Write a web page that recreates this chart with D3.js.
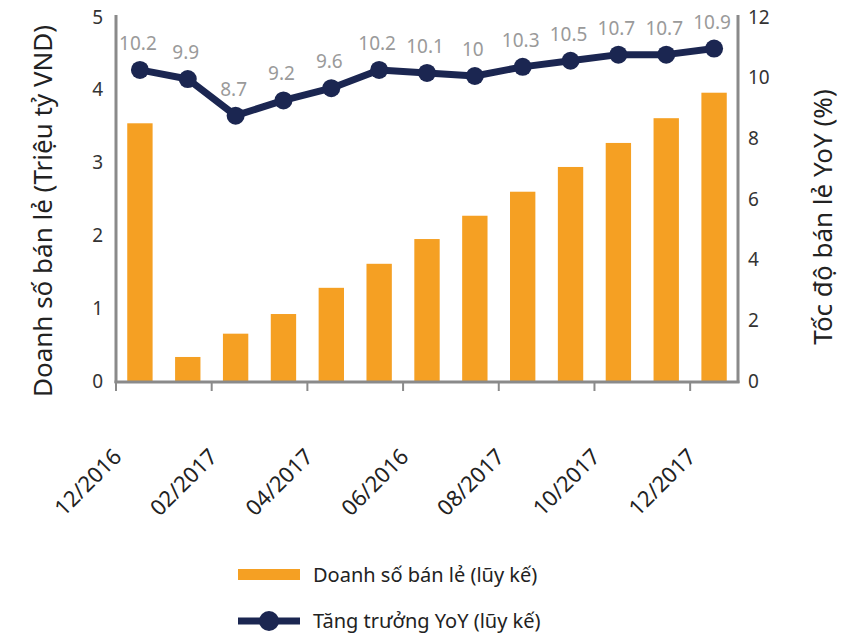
<!DOCTYPE html>
<html>
<head>
<meta charset="utf-8">
<script src="https://cdn.jsdelivr.net/npm/d3@7"></script>
<style>
  body { margin: 0; background: #fff; }
  svg text { font-family: "Noto Sans", "Open Sans", sans-serif; }
</style>
</head>
<body>
<div id="chart"></div>
<script>
// --- data ---
const months = ["12/2016", "01/2017", "02/2017", "03/2017", "04/2017", "05/2017", "06/2016",
    "07/2017", "08/2017", "09/2017", "10/2017", "11/2017", "12/2017"];
const sales = [3.54, 0.33, 0.65, 0.92, 1.28, 1.61, 1.95, 2.27, 2.60, 2.94, 3.27, 3.61, 3.96];
const yoy = [10.2, 9.9, 8.7, 9.2, 9.6, 10.2, 10.1, 10, 10.3, 10.5, 10.7, 10.7, 10.9];
const leftTicks = [0, 1, 2, 3, 4, 5];
const rightTicks = [0, 2, 4, 6, 8, 10, 12];
const shownLabels = ["12/2016", "02/2017", "04/2017", "06/2016", "08/2017", "10/2017", "12/2017"];

const W = 855, H = 641;
const plotL = 116, plotR = 738, plotT = 17, plotB = 381;
const barColor = "#f5a023", lineColor = "#1b2651", axisColor = "#8a8a8a";

const svg = d3.select("#chart").append("svg")
    .attr("width", W).attr("height", H);

const x = d3.scaleBand().domain(months).range([plotL, plotR]).paddingInner(0.47).paddingOuter(0.235);
const xb = d3.scaleBand().domain(months).range([plotL, plotR]); // full bands for ticks
const yL = d3.scaleLinear().domain([0, 5]).range([plotB, plotT]);
const yR = d3.scaleLinear().domain([0, 12]).range([plotB, plotT - 2]);

// bars
svg.append("g").selectAll("rect")
    .data(sales)
    .join("rect")
    .attr("x", (d, i) => x(months[i]))
    .attr("width", x.bandwidth())
    .attr("y", d => yL(d))
    .attr("height", d => yL(0) - yL(d))
    .attr("fill", barColor);

// axes lines
const axisG = svg.append("g").attr("stroke", axisColor).attr("stroke-width", 3);
axisG.append("line").attr("x1", plotL).attr("x2", plotL).attr("y1", plotT - 2).attr("y2", plotB + 2);
axisG.append("line").attr("x1", plotR).attr("x2", plotR).attr("y1", plotT - 2).attr("y2", plotB + 2);
axisG.append("line").attr("x1", plotL - 1.5).attr("x2", plotR + 1.5).attr("y1", plotB + 1).attr("y2", plotB + 1);

// bottom ticks at band edges every two categories
const tickIdx = d3.range(0, months.length, 2);
axisG.append("g").selectAll("line")
    .data(tickIdx)
    .join("line")
    .attr("stroke-width", 2)
    .attr("x1", i => xb(months[i])).attr("x2", i => xb(months[i]))
    .attr("y1", plotB).attr("y2", plotB + 10);

// x labels
svg.append("g").selectAll("text")
    .data(shownLabels)
    .join("text")
    .attr("transform", d => {
        const cx = xb(d) + xb.bandwidth() / 2 - 17;
        return `translate(${cx},${plotB + 77}) rotate(-45)`;
    })
    .attr("text-anchor", "end")
    .attr("font-size", 22)
    .attr("fill", "#222")
    .text(d => d);

// left tick labels
svg.append("g").selectAll("text")
    .data(leftTicks)
    .join("text")
    .attr("x", plotL - 13)
    .attr("y", d => yL(d))
    .attr("dy", "0.35em")
    .attr("text-anchor", "end")
    .attr("font-size", 19)
    .attr("fill", "#333")
    .text(d => d);

// right tick labels
svg.append("g").selectAll("text")
    .data(rightTicks)
    .join("text")
    .attr("x", plotR + 10)
    .attr("y", d => yL(d / 12 * 5))
    .attr("dy", "0.35em")
    .attr("text-anchor", "start")
    .attr("font-size", 19)
    .attr("fill", "#333")
    .text(d => d);

// axis titles
svg.append("text")
    .attr("transform", `translate(52,${(plotT + plotB) / 2 + 12}) rotate(-90)`)
    .attr("text-anchor", "middle")
    .attr("font-size", 26)
    .attr("fill", "#222")
    .text("Doanh số bán lẻ (Triệu tỷ VND)");
svg.append("text")
    .attr("transform", `translate(832,${(plotT + plotB) / 2 + 18}) rotate(-90)`)
    .attr("text-anchor", "middle")
    .attr("font-size", 26)
    .attr("fill", "#222")
    .text("Tốc độ bán lẻ YoY (%)");

// line
const cx = i => x(months[i]) + x.bandwidth() / 2;
const line = d3.line().x((d, i) => cx(i)).y(d => yR(d));
svg.append("path")
    .datum(yoy)
    .attr("d", line)
    .attr("fill", "none")
    .attr("stroke", lineColor)
    .attr("stroke-width", 7)
    .attr("stroke-linejoin", "round");
svg.append("g").selectAll("circle")
    .data(yoy)
    .join("circle")
    .attr("cx", (d, i) => cx(i))
    .attr("cy", d => yR(d))
    .attr("r", 9)
    .attr("fill", lineColor);
svg.append("g").selectAll("text")
    .data(yoy)
    .join("text")
    .attr("x", (d, i) => cx(i) - 2)
    .attr("y", d => yR(d) - 20)
    .attr("text-anchor", "middle")
    .attr("font-size", 19)
    .attr("fill", "#9a9a9a")
    .text(d => d);

// legend
const lg = svg.append("g");
lg.append("rect").attr("x", 238).attr("y", 569).attr("width", 62).attr("height", 11).attr("fill", barColor);
lg.append("text").attr("x", 313).attr("y", 575).attr("dy", "0.35em")
    .attr("font-size", 20).attr("fill", "#222").text("Doanh số bán lẻ (lũy kế)");
lg.append("line").attr("x1", 238).attr("x2", 300).attr("y1", 621).attr("y2", 621)
    .attr("stroke", lineColor).attr("stroke-width", 7);
lg.append("circle").attr("cx", 269).attr("cy", 621).attr("r", 10).attr("fill", lineColor);
lg.append("text").attr("x", 313).attr("y", 621).attr("dy", "0.35em")
    .attr("font-size", 20).attr("fill", "#222").text("Tăng trưởng YoY (lũy kế)");
</script>
</body>
</html>
